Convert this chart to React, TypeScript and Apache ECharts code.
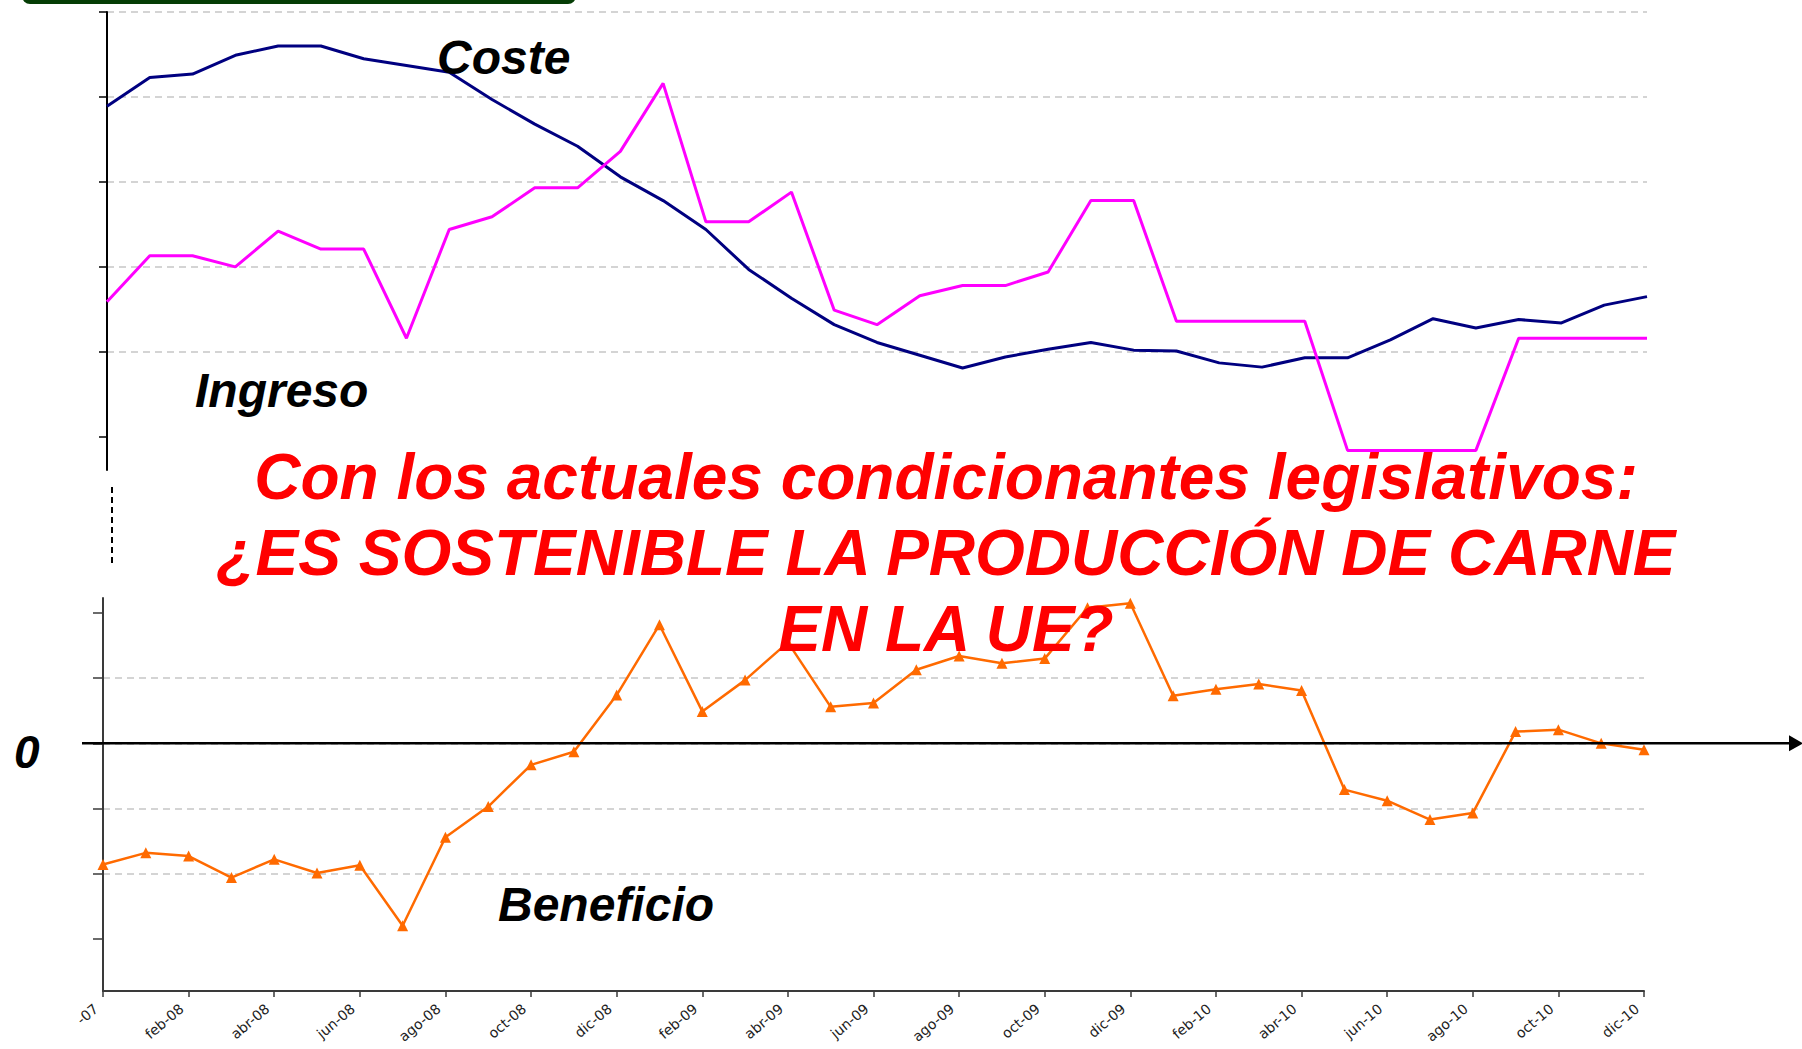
import React, { useEffect, useRef } from "react";
import * as echarts from "echarts";

// Months (dic-07 .. dic-10), one point per month
const months = [
  "dic-07", "ene-08", "feb-08", "mar-08", "abr-08", "may-08", "jun-08", "jul-08", "ago-08", "sep-08", "oct-08", "nov-08",
  "dic-08", "ene-09", "feb-09", "mar-09", "abr-09", "may-09", "jun-09", "jul-09", "ago-09", "sep-09", "oct-09", "nov-09",
  "dic-09", "ene-10", "feb-10", "mar-10", "abr-10", "may-10", "jun-10", "jul-10", "ago-10", "sep-10", "oct-10", "nov-10",
  "dic-10",
];

// Upper panel (arbitrary units, one gridline per unit)
const coste = [
  4.89, 5.23, 5.27, 5.49, 5.6, 5.6, 5.45, 5.37, 5.29, 4.97, 4.68, 4.42,
  4.06, 3.78, 3.44, 2.97, 2.63, 2.32, 2.11, 1.96, 1.81, 1.94, 2.03, 2.11,
  2.02, 2.01, 1.87, 1.82, 1.93, 1.93, 2.14, 2.39, 2.28, 2.38, 2.34, 2.55,
  2.65,
];
const ingreso = [
  2.59, 3.13, 3.13, 3.0, 3.42, 3.21, 3.21, 2.16, 3.44, 3.59, 3.93, 3.93,
  4.36, 5.16, 3.53, 3.53, 3.88, 2.49, 2.32, 2.66, 2.78, 2.78, 2.94, 3.78,
  3.78, 2.36, 2.36, 2.36, 2.36, 0.84, 0.84, 0.84, 0.84, 2.16, 2.16, 2.16,
  2.16,
];

// Lower panel (same kind of units, 0 = break-even)
const beneficio = [
  -1.86, -1.68, -1.73, -2.06, -1.78, -1.99, -1.87, -2.8, -1.44, -0.97, -0.33, -0.13,
  0.74, 1.82, 0.49, 0.97, 1.55, 0.56, 0.62, 1.13, 1.34, 1.23, 1.3, 2.08,
  2.15, 0.73, 0.83, 0.91, 0.81, -0.71, -0.88, -1.17, -1.07, 0.18, 0.21, 0.0,
  -0.1,
];

const topTicks = [1, 2, 3, 4, 5, 6];
const bottomTicks = [-3, -2, -1, 0, 1, 2];
const firstTickLabel = "-07"; // first label is cut in the original

const titleLines = [
  "Con los actuales condicionantes legislativos:",
  "¿ES SOSTENIBLE LA PRODUCCIÓN DE CARNE",
  "EN LA UE?",
];

export default function App() {
  const ref = useRef<HTMLDivElement>(null);

  useEffect(() => {
    const chart = echarts.init(ref.current!, null, { renderer: "svg" });
    const ff = "'Liberation Sans', Arial, sans-serif";
    const gridLine = { color: "#c6c6c6", width: 1.5, type: [7, 5] as any };

    chart.setOption({
      animation: false,
      backgroundColor: "#ffffff",
      grid: [
        { left: 107, top: 12, width: 1540, height: 458, containLabel: false, outerBoundsMode: "none" },
        { left: 103, top: 598, width: 1541, height: 393, containLabel: false, outerBoundsMode: "none" },
      ],
      xAxis: [
        {
          gridIndex: 0,
          type: "category",
          data: months,
          boundaryGap: false,
          axisLine: { show: false, onZero: false },
          axisTick: { show: false },
          axisLabel: { show: false },
          splitLine: { show: false },
        },
        {
          gridIndex: 1,
          type: "category",
          data: months,
          boundaryGap: false,
          axisLine: { show: true, onZero: false, lineStyle: { color: "#3a3a3a", width: 2 } },
          axisTick: { show: true, interval: 1, length: 6, lineStyle: { color: "#3a3a3a", width: 1.5 } },
          axisLabel: {
            interval: 1,
            rotate: 40,
            margin: 10,
            padding: [0, 9, 0, 0],
            fontFamily: "'DejaVu Sans', sans-serif",
            fontSize: 14,
            color: "#222",
            formatter: (v: string, i: number) => (i === 0 ? firstTickLabel : v),
          },
          splitLine: { show: false },
        },
      ],
      yAxis: [
        {
          gridIndex: 0,
          type: "value",
          min: 0.609,
          max: 6,
          minInterval: 1,
          maxInterval: 1,
          axisLine: { show: true, lineStyle: { color: "#000", width: 2 } },
          axisTick: { show: true, length: 8, customValues: topTicks, lineStyle: { color: "#000", width: 1.5 } },
          axisLabel: { show: false },
          splitLine: { show: true, showMinLine: false, lineStyle: gridLine },
        },
        {
          gridIndex: 1,
          type: "value",
          min: -3.8,
          max: 2.23,
          minInterval: 1,
          maxInterval: 1,
          axisLine: { show: true, onZero: false, lineStyle: { color: "#3a3a3a", width: 2 } },
          axisTick: { show: true, length: 10, customValues: bottomTicks, lineStyle: { color: "#3a3a3a", width: 1.5 } },
          axisLabel: { show: false },
          splitLine: { show: true, showMinLine: false, showMaxLine: false, lineStyle: gridLine },
        },
      ],
      series: [
        {
          name: "Coste",
          type: "line",
          xAxisIndex: 0,
          yAxisIndex: 0,
          data: coste,
          symbol: "none",
          clip: false,
          z: 3,
          lineStyle: { color: "#000080", width: 3 },
        },
        {
          name: "Ingreso",
          type: "line",
          xAxisIndex: 0,
          yAxisIndex: 0,
          data: ingreso,
          symbol: "none",
          clip: false,
          z: 3,
          lineStyle: { color: "#ff00ff", width: 3 },
        },
        {
          name: "Beneficio",
          type: "line",
          xAxisIndex: 1,
          yAxisIndex: 1,
          data: beneficio,
          symbol: "triangle",
          symbolSize: 11,
          clip: false,
          z: 3,
          itemStyle: { color: "#ff6a00" },
          lineStyle: { color: "#ff6a00", width: 2.5 },
        },
      ],
    });

    const y0 = chart.convertToPixel({ yAxisIndex: 1 }, 0) as number;
    const label = (text: string, x: number, baseline: number, size: number, fill = "#000", align = "left") => ({
      type: "text",
      z: 20,
      style: {
        text,
        x,
        y: baseline - 0.35 * size,
        fill,
        fontFamily: ff,
        fontWeight: "bold",
        fontStyle: "italic",
        fontSize: size,
        align,
        verticalAlign: "middle",
      },
    });

    chart.setOption({
      graphic: [
        {
          type: "rect",
          z: 10,
          shape: { x: 22, y: -14, width: 554, height: 18, r: 8 },
          style: { fill: "#053d05" },
        },
        {
          type: "line",
          z: 10,
          shape: { x1: 112, y1: 487, x2: 112, y2: 563 },
          style: { stroke: "#000", lineWidth: 2, lineDash: [6, 4] },
        },
        {
          type: "line",
          z: 10,
          shape: { x1: 82, y1: y0, x2: 1792, y2: y0 },
          style: { stroke: "#000", lineWidth: 2.5 },
        },
        {
          type: "polygon",
          z: 10,
          shape: { points: [[1789, y0 - 8], [1803, y0], [1789, y0 + 8]] },
          style: { fill: "#000" },
        },
        label("Coste", 437, 74, 48),
        label("Ingreso", 195, 407, 48),
        label("Beneficio", 498, 921, 48),
        label("0", 14, 768, 46),
        label(titleLines[0], 946, 499, 64, "#ff0000", "center"),
        label(titleLines[1], 946, 575, 64, "#ff0000", "center"),
        label(titleLines[2], 946, 651, 64, "#ff0000", "center"),
      ],
    });

    return () => chart.dispose();
  }, []);

  return (
    <div
      ref={ref}
      style={{ position: "fixed", left: 0, top: 0, width: 1802, height: 1049, background: "#fff" }}
    />
  );
}
